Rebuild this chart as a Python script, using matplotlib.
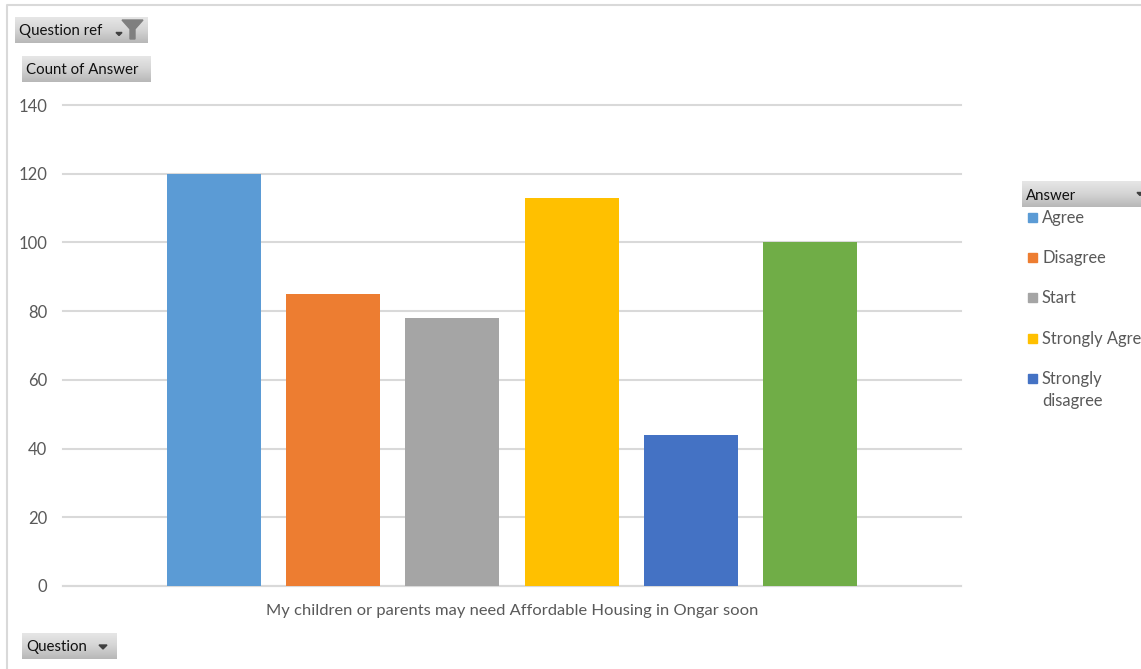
import numpy as np
import matplotlib
matplotlib.use("Agg")
import matplotlib.pyplot as plt
from matplotlib.patches import Rectangle, Polygon

plt.rcParams["font.family"] = ["Lato", "DejaVu Sans"]

# Data (legend names as far as the picture shows them)
answers = ["Agree", "Disagree", "Start", "Strongly Agre", "Strongly\ndisagree", ""]
counts = [120, 85, 78, 113, 44, 100]
colors = ["#5B9BD5", "#ED7D31", "#A5A5A5", "#FFC000", "#4472C4", "#70AD47"]
y_ticks = [0, 20, 40, 60, 80, 100, 120, 140]
x_label = "My children or parents may need Affordable Housing in Ongar soon"

W, H = 1141, 669
fig = plt.figure(figsize=(W / 100, H / 100), dpi=100, facecolor="white")

# Main plot area, placed in pixels
left, right, top, bottom = 63, 961, 105, 586
ax = fig.add_axes([left / W, 1 - bottom / H, (right - left) / W, (bottom - top) / H])
x = np.arange(len(counts))
ax.bar(x, counts, width=0.787, color=colors, zorder=3)
ax.set_xlim(-1.265, 6.265)
ax.set_ylim(0, 140)
ax.set_yticks(y_ticks)
ax.set_xticks([])
ax.grid(axis="y", color="#D9D9D9", linewidth=1.5, zorder=0)
for gl in ax.get_ygridlines():
    gl.set_clip_on(False)
ax.set_axisbelow(True)
for s in ["top", "right", "left"]:
    ax.spines[s].set_visible(False)
ax.spines["bottom"].set_color("#D9D9D9")
ax.spines["bottom"].set_linewidth(1.5)
ax.tick_params(axis="y", length=0, pad=11.5, labelsize=12, labelcolor="#595959")

# Overlay in pixel coordinates for the pivot chart furniture
ov = fig.add_axes([0, 0, 1, 1], facecolor="none")
ov.set_xlim(0, W)
ov.set_ylim(H, 0)
ov.axis("off")

# Outer chart border
ov.plot([7, 7, W], [H, 5, 5], color="#D9D9D9", linewidth=1.5, solid_capstyle="butt")

ov.text(512, 611, x_label, ha="center", va="center", fontsize=11.85, color="#595959")

gradient = np.linspace(0, 1, 32).reshape(-1, 1)
button_cmap = matplotlib.colors.LinearSegmentedColormap.from_list(
    "button", ["#E6E6E6", "#D4D4D4", "#B8B8B8"]
)


def field_button(x0, y0, x1, y1, label):
    ov.imshow(gradient, extent=[x0, x1, y1, y0], cmap=button_cmap, aspect="auto", zorder=2)
    ov.text(x0 + 4, (y0 + y1) / 2 + 1.5, label, ha="left", va="center",
            fontsize=10.8, color="#111111", zorder=3)


def arrow(cx, cy, size=4):
    ov.add_patch(Polygon([[cx - size, cy - size / 2], [cx + size, cy - size / 2], [cx, cy + size / 2]],
                         color="#404040", zorder=4))


field_button(15, 17, 148, 43, "Question ref")
arrow(119, 34, 3)
ov.add_patch(Polygon([[122, 20], [143, 20], [135, 29], [135, 39], [130, 39], [130, 29]],
                     color="#7F7F7F", zorder=4))

field_button(22, 56, 151, 82, "Count of Answer")

field_button(22, 633, 117, 659, "Question")
arrow(103, 647, 4)

field_button(1022, 181, W, 207, "Answer")
arrow(1140, 194, 3)

# Legend, cut off at the figure edge in the reference
legend_y = [217, 257, 297, 338, 378]
for name, c, ly in zip(answers[:5], colors[:5], legend_y):
    ov.add_patch(Rectangle((1027.5, ly - 4.5), 9, 9, color=c, zorder=3))
    ov.text(1042, ly - 7, name, ha="left", va="top", fontsize=11.9, color="#595959",
            linespacing=1.45, zorder=3)

ov.set_xlim(0, W)
ov.set_ylim(H, 0)

fig.savefig("out.png", dpi=100)
plt.close(fig)
